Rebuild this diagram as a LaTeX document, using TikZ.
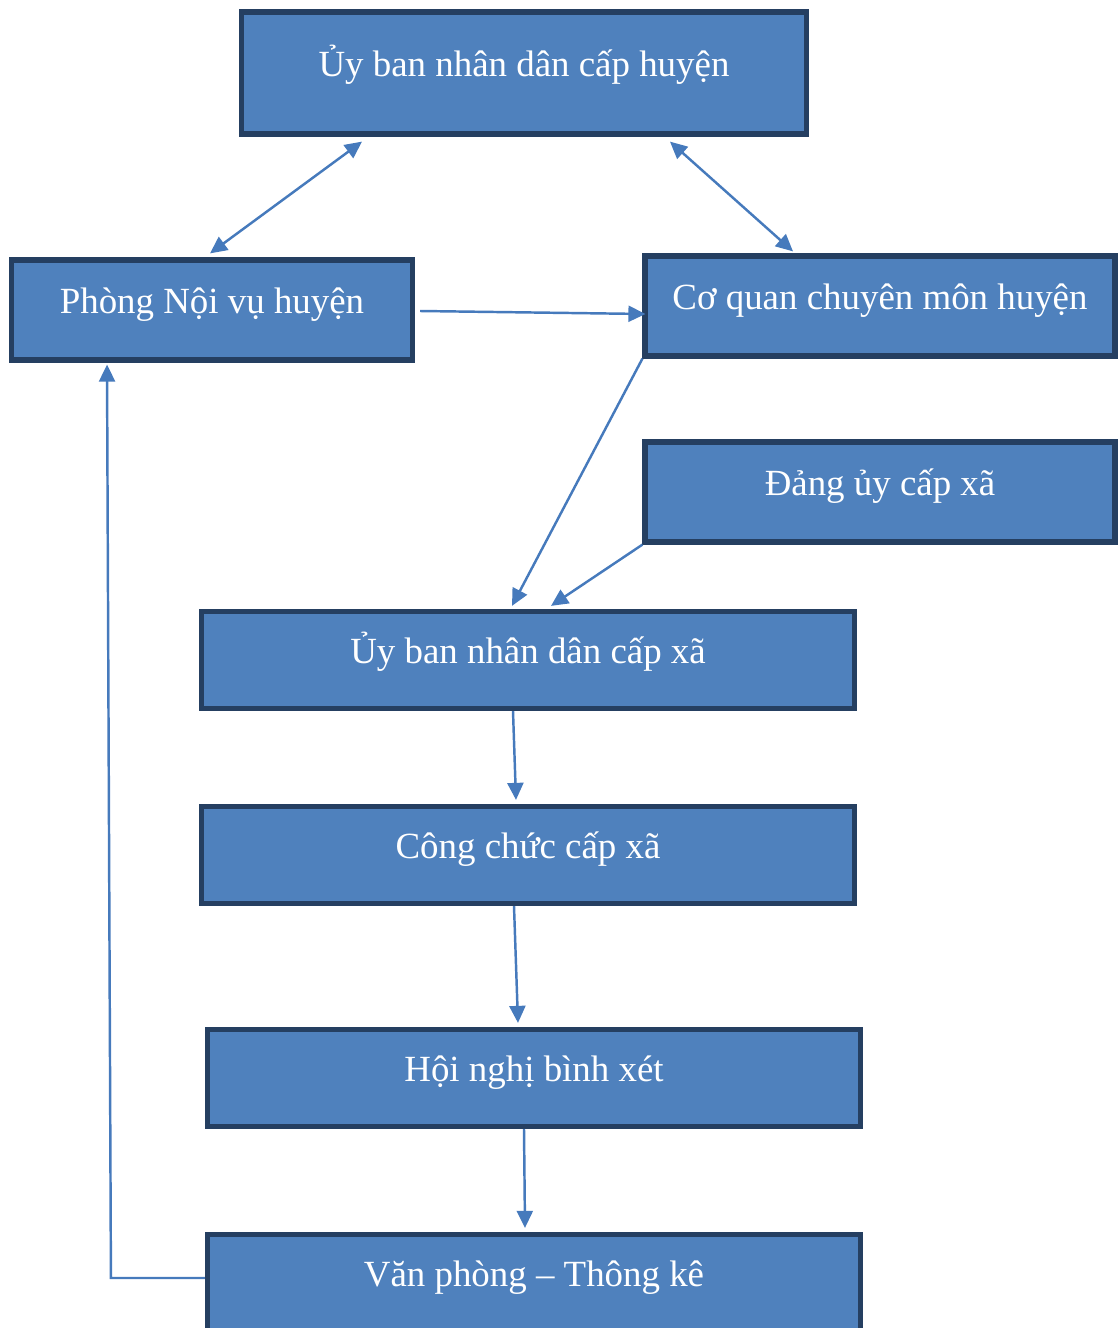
\documentclass[tikz,border=0pt]{standalone}
\usepackage{fontspec}
\setmainfont{Liberation Serif}
\usepackage{tikz}
\usetikzlibrary{arrows.meta,calc}
\definecolor{boxfill}{RGB}{79,129,189}
\definecolor{boxline}{RGB}{37,63,97}
\definecolor{linkblue}{RGB}{70,122,188}
\tikzset{
  orgbox/.style={rectangle, draw=boxline, fill=boxfill, line width=3pt,
                 inner sep=2pt, text=white, font=\fontsize{21}{25}\selectfont,
                 text height=0.5cm, text depth=0.36cm},
  linkarrow/.style={-{Triangle[length=0.34cm,width=0.32cm]}, line width=1.4pt, linkblue},
  dblarrow/.style={{Triangle[length=0.34cm,width=0.32cm]}-{Triangle[length=0.34cm,width=0.32cm]},
                   line width=1.4pt, linkblue},
}
\begin{document}
\begin{tikzpicture}[x=0.02cm,y=-0.02cm]
  \useasboundingbox (0,0) rectangle (1117,1328);

  % district level
  \node[orgbox, minimum width=11.3cm, minimum height=2.44cm] (uh) at (524,73) {Ủy ban nhân dân cấp huyện};
  \node[orgbox, minimum width=8.02cm, minimum height=2cm] (pnv) at (212,310) {Phòng Nội vụ huyện};
  \node[orgbox, minimum width=9.4cm, minimum height=2cm] (cq) at (880,306) {Cơ quan chuyên môn huyện};
  \node[orgbox, minimum width=9.4cm, minimum height=2cm] (du) at (880,492) {Đảng ủy cấp xã};

  % commune level
  \node[orgbox, minimum width=13.06cm, minimum height=1.94cm] (ux) at (528,660) {Ủy ban nhân dân cấp xã};
  \node[orgbox, minimum width=13.06cm, minimum height=1.94cm] (cc) at (528,855) {Công chức cấp xã};
  \node[orgbox, minimum width=13.06cm, minimum height=1.94cm] (hn) at (534,1078) {Hội nghị bình xét};
  \node[orgbox, minimum width=13.06cm, minimum height=1.94cm] (vp) at (534,1283) {Văn phòng – Thông kê};

  % links
  \draw[dblarrow] ($(uh.south)+(-162,5)$) -- ($(pnv.north)+(-2,-4)$);
  \draw[dblarrow] ($(uh.south)+(146,5)$) -- ($(cq.north)+(-87,-2)$);
  \draw[linkarrow] ($(pnv.east)+(5,1)$) -- ($(cq.west)+(3,8)$);
  \draw[linkarrow] (cq.south west) -- ($(ux.north)+(-16,-3)$);
  \draw[linkarrow] (du.south west) -- ($(ux.north)+(23,-3)$);
  \draw[linkarrow] ($(ux.south)+(-15,0)$) -- ($(cc.north)+(-12,-4)$);
  \draw[linkarrow] ($(cc.south)+(-14,0)$) -- ($(hn.north)+(-16,-4)$);
  \draw[linkarrow] ($(hn.south)+(-10,0)$) -- ($(vp.north)+(-9,-4)$);
  \draw[linkarrow] ($(vp.west)+(0,-5)$) -- ($(vp.west)+(-94,-5)$) -- ($(pnv.south)+(-105,2)$);
\end{tikzpicture}
\end{document}
